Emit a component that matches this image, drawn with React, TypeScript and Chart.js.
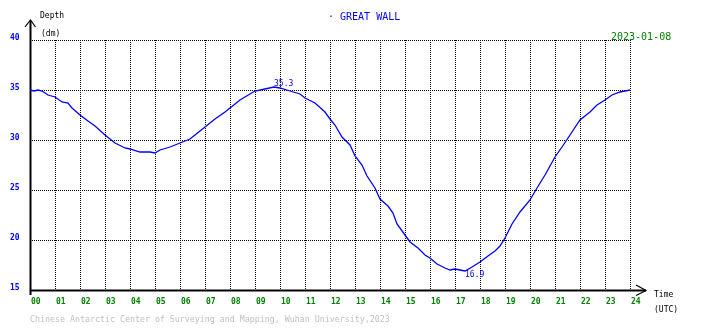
import React, { useEffect, useRef } from 'react';
import { Chart, registerables } from 'chart.js';

Chart.register(...registerables);

// Time in hours (UTC) and tide depth in dm
const hours = [
  0.0, 0.16, 0.32, 0.48, 0.72, 1.0, 1.28, 1.52, 1.68, 2.0, 2.32, 2.6, 3.0, 3.4, 3.8, 4.0, 4.4, 4.8, 5.0,
  5.2, 5.6, 6.0, 6.4, 6.8, 7.0, 7.4, 7.8, 8.0, 8.4, 8.8, 9.0, 9.4, 9.76, 10.0, 10.4, 10.8, 11.0, 11.4,
  11.8, 12.0, 12.2, 12.48, 12.8, 13.0, 13.28, 13.48, 13.8, 14.0, 14.32, 14.52, 14.68, 15.0, 15.2, 15.52,
  15.8, 16.0, 16.28, 16.6, 16.8, 17.0, 17.2, 17.4, 17.68, 18.0, 18.32, 18.6, 18.8, 19.0, 19.28, 19.6,
  20.0, 20.28, 20.6, 21.0, 21.28, 21.6, 22.0, 22.4, 22.68, 23.0, 23.28, 23.6, 24.0,
];
const depths = [
  35.0, 34.9, 35.0, 34.9, 34.5, 34.3, 33.8, 33.7, 33.2, 32.5, 31.9, 31.4, 30.5, 29.7, 29.2, 29.1, 28.8, 28.8, 28.7,
  29.0, 29.3, 29.7, 30.1, 30.9, 31.3, 32.1, 32.8, 33.2, 34.0, 34.6, 34.9, 35.1, 35.3, 35.2, 34.9, 34.6, 34.2, 33.7,
  32.8, 32.1, 31.5, 30.3, 29.5, 28.4, 27.5, 26.4, 25.2, 24.1, 23.4, 22.7, 21.6, 20.5, 19.8, 19.2,
  18.5, 18.2, 17.6, 17.2, 17.0, 17.1, 17.0, 16.9, 17.3, 17.8, 18.4, 18.9, 19.4, 20.2, 21.6, 22.8,
  24.0, 25.2, 26.5, 28.3, 29.3, 30.5, 32.0, 32.8, 33.5, 34.0, 34.5, 34.8, 35.0,
];

const xTickValues = Array.from({ length: 25 }, (_, i) => i);
const xTickLabels = xTickValues.map((h) => String(h).padStart(2, '0'));
const yTickValues = [15, 20, 25, 30, 35, 40];

const titleText = '· GREAT WALL';
const dateText = '2023-01-08';
const creditText = 'Chinese Antarctic Center of Surveying and Mapping, Wuhan University,2023';

const BLUE = '#0000ff';
const GREEN = '#008000';
const MONO = '"DejaVu Sans Mono", "Liberation Mono", monospace';

const decor = {
  id: 'decor',
  beforeDatasetsDraw(chart: any) {
    const { ctx, scales } = chart;
    const x = scales.x;
    const y = scales.y;
    const left = Math.round(x.getPixelForValue(0));
    const right = Math.round(x.getPixelForValue(24));
    const top = Math.round(y.getPixelForValue(40));
    const bottom = Math.round(y.getPixelForValue(15));
    ctx.save();
    ctx.strokeStyle = '#000';
    ctx.lineWidth = 1;
    ctx.setLineDash([1, 1]);
    for (const h of xTickValues) {
      if (h === 0) continue;
      const px = Math.round(x.getPixelForValue(h)) + 0.5;
      ctx.beginPath();
      ctx.moveTo(px, top);
      ctx.lineTo(px, bottom);
      ctx.stroke();
    }
    for (const v of yTickValues) {
      if (v === 15) continue;
      const py = Math.round(y.getPixelForValue(v)) + 0.5;
      ctx.beginPath();
      ctx.moveTo(left, py);
      ctx.lineTo(right + 1, py);
      ctx.stroke();
    }
    ctx.setLineDash([]);
    ctx.lineWidth = 2;
    // y axis
    ctx.beginPath();
    ctx.moveTo(left + 0.5, bottom + 5);
    ctx.lineTo(left + 0.5, top - 19);
    ctx.stroke();
    ctx.lineWidth = 1.2;
    ctx.beginPath();
    ctx.moveTo(left - 5, top - 13);
    ctx.lineTo(left + 0.5, top - 20);
    ctx.lineTo(left + 5.5, top - 13);
    ctx.stroke();
    // x axis
    ctx.lineWidth = 2;
    ctx.beginPath();
    ctx.moveTo(left, bottom + 0.5);
    ctx.lineTo(right + 16, bottom + 0.5);
    ctx.stroke();
    ctx.lineWidth = 1.2;
    ctx.beginPath();
    ctx.moveTo(right + 6, bottom - 5);
    ctx.lineTo(right + 16, bottom + 0.5);
    ctx.lineTo(right + 6, bottom + 5.5);
    ctx.stroke();
    ctx.restore();
  },
  afterDraw(chart: any) {
    const { ctx, scales } = chart;
    const x = scales.x;
    const y = scales.y;
    ctx.save();
    // x tick labels
    ctx.fillStyle = GREEN;
    ctx.font = `bold 8px ${MONO}`;
    ctx.textAlign = 'left';
    ctx.textBaseline = 'middle';
    xTickValues.forEach((h, i) => {
      ctx.fillText(xTickLabels[i], Math.round(x.getPixelForValue(h)) + 1, 302);
    });
    // y tick labels
    ctx.fillStyle = BLUE;
    ctx.font = `bold 8px ${MONO}`;
    ctx.textAlign = 'left';
    yTickValues.forEach((v) => {
      ctx.fillText(String(v), 10, Math.round(y.getPixelForValue(v)) - 2);
    });
    // axis titles
    ctx.fillStyle = '#000';
    ctx.font = `8px ${MONO}`;
    ctx.fillText('Depth', 40, 16);
    ctx.fillText('(dm)', 41, 34);
    ctx.fillText('Time', 654, 295);
    ctx.fillText('(UTC)', 654, 310);
    // title
    ctx.fillStyle = BLUE;
    ctx.font = `10px ${MONO}`;
    ctx.fillText(titleText, 328, 17);
    // date
    ctx.fillStyle = GREEN;
    ctx.fillText(dateText, 611, 37);
    // credit
    ctx.fillStyle = '#c0c0c0';
    ctx.font = `8.3px ${MONO}`;
    ctx.fillText(creditText, 30, 320);
    // max / min annotations
    let iMax = 0;
    let iMin = 0;
    depths.forEach((d, i) => {
      if (d > depths[iMax]) iMax = i;
      if (d < depths[iMin]) iMin = i;
    });
    ctx.fillStyle = BLUE;
    ctx.font = `8px ${MONO}`;
    ctx.textBaseline = 'alphabetic';
    ctx.fillText(depths[iMax].toFixed(1), x.getPixelForValue(hours[iMax]), y.getPixelForValue(depths[iMax]) - 1);
    ctx.textBaseline = 'top';
    ctx.fillText(depths[iMin].toFixed(1), x.getPixelForValue(hours[iMin]), y.getPixelForValue(depths[iMin]) + 0);
    ctx.restore();
  },
};

export default function App() {
  const ref = useRef<HTMLCanvasElement | null>(null);
  useEffect(() => {
    document.body.style.margin = '0';
    document.body.style.background = '#fff';
    const canvas = ref.current;
    if (!canvas) return;
    const chart = new Chart(canvas, {
      type: 'line',
      data: {
        datasets: [
          {
            data: hours.map((h, i) => ({ x: h, y: depths[i] })),
            borderColor: BLUE,
            borderWidth: 1.3,
            pointRadius: 0,
            tension: 0,
            fill: false,
          },
        ],
      },
      options: {
        animation: false,
        responsive: false,
        maintainAspectRatio: false,
        devicePixelRatio: 1,
        layout: { padding: { left: 30, top: 40, right: 80, bottom: 38 } },
        plugins: { legend: { display: false }, tooltip: { enabled: false }, title: { display: false } },
        scales: {
          x: { type: 'linear', min: 0, max: 24, display: false },
          y: { type: 'linear', min: 15, max: 40, display: false },
        },
      },
      plugins: [decor],
    });
    return () => chart.destroy();
  }, []);
  return <canvas ref={ref} width={710} height={328} style={{ display: 'block', width: 710, height: 328 }} />;
}
